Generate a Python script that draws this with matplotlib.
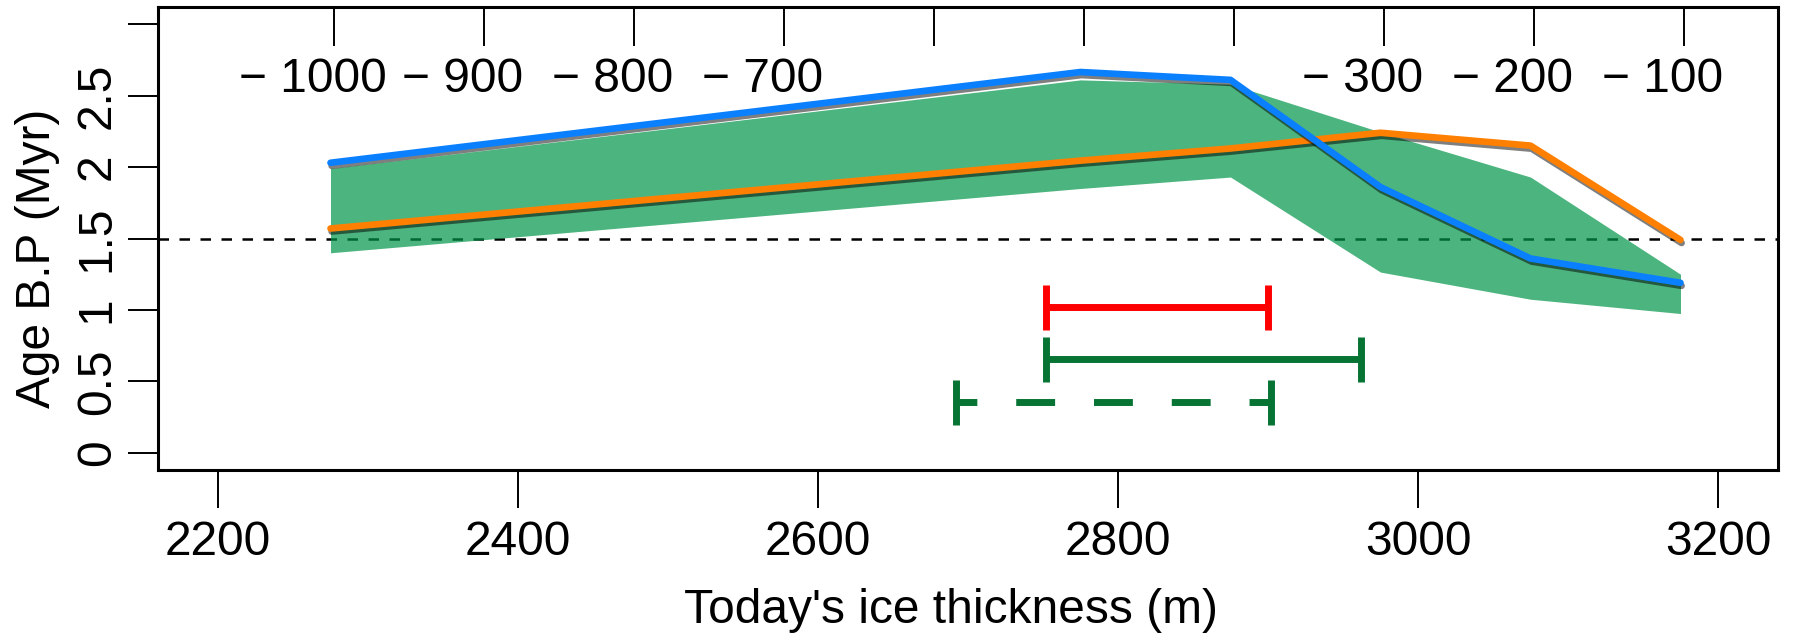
import matplotlib
matplotlib.use("Agg")
import matplotlib.pyplot as plt
import matplotlib.patheffects as pe

# ===================================
# Data
# ===================================

thickness = [2275, 2775, 2875, 2975, 3075, 3175]

age_blue = [2.03, 2.665, 2.61, 1.86, 1.36, 1.19]
age_orange = [1.57, 2.045, 2.13, 2.24, 2.15, 1.49]
band_upper = [1.99, 2.61, 2.58, 2.245, 1.93, 1.25]
band_lower = [1.40, 1.85, 1.93, 1.265, 1.075, 0.975]

# ranges (x from, x to, y level)
range_red = [2752, 2900, 1.02]
range_green = [2752, 2962, 0.655]
range_green_dashed = [2692, 2902, 0.355]

top_ticks = [2277, 2377, 2477, 2577, 2677, 2777, 2877, 2977, 3077, 3177]
top_labels = ["1000", "900", "800", "700", "", "", "", "300", "200", "100"]

x_ticks = [2200, 2400, 2600, 2800, 3000, 3200]
y_ticks = [0, 0.5, 1, 1.5, 2, 2.5, 3]
y_tick_labels = ["0", "0.5", "1", "1.5", "2", "2.5", ""]

# ===================================
# Figure
# ===================================

plt.rcParams["font.family"] = ["Liberation Sans", "DejaVu Sans"]
FS = 34.5

fig = plt.figure(figsize=(17.94, 6.34), dpi=100)
ax = fig.add_axes([158 / 1794, (634 - 470) / 634, (1778 - 158) / 1794, (470 - 7) / 634])

ax.axhline(1.5, color="black", lw=1.8, linestyle=(0, (4.2, 4.2)), zorder=1)

ax.fill_between(thickness, band_lower, band_upper, color="#009548",
                alpha=0.7, lw=0, zorder=2)

shadow = [pe.SimpleLineShadow(offset=(0.8, -2.2), shadow_color="black", alpha=0.5),
          pe.Normal()]

ax.plot(thickness, age_blue, color="#0A80FF", lw=4.8, zorder=4,
        solid_capstyle="round", solid_joinstyle="round", path_effects=shadow)
ax.plot(thickness, age_orange, color="#FF8000", lw=4.8, zorder=3,
        solid_capstyle="round", solid_joinstyle="round", path_effects=shadow)

# ===================================
# Range bars
# ===================================

cap = 0.158


def range_bar(r, color, style="solid"):
    ax.plot([r[0], r[1]], [r[2], r[2]], color=color, lw=5, linestyle=style,
            solid_capstyle="butt", dash_capstyle="butt", zorder=3)
    ax.vlines([r[0], r[1]], r[2] - cap, r[2] + cap, color=color, lw=5, zorder=3)


range_bar(range_red, "#FF0000")
range_bar(range_green, "#077434")
range_bar(range_green_dashed, "#077434", style=(2.6, (5.6, 5.6)))

# ===================================
# Axes
# ===================================

ax.set_xlim(2160, 3240)
ax.set_ylim(-0.12, 3.12)

ax.set_xticks(x_ticks)
ax.set_xticklabels([str(v) for v in x_ticks])
ax.set_yticks(y_ticks)
ax.set_yticklabels(y_tick_labels)

ax.tick_params(axis="x", length=27, width=1.4, pad=9, labelsize=FS)
ax.tick_params(axis="y", length=21.5, width=1.4, pad=6, labelsize=FS,
               labelrotation=90)
for lab in ax.get_yticklabels():
    lab.set_va("center")

for sp in ax.spines.values():
    sp.set_linewidth(2.2)

top = ax.secondary_xaxis("top")
top.set_xticks(top_ticks)
top.set_xticklabels([])
top.tick_params(direction="in", length=28, width=1.4)

for xt, lab in zip(top_ticks, top_labels):
    if lab == "":
        continue
    ax.annotate("\u2212 " + lab, xy=(xt, 0.8164), xycoords=("data", "axes fraction"),
                xytext=(len(lab) * 0.556 * FS / 2, 0), textcoords="offset points",
                ha="right", va="baseline", fontsize=FS)

fig.text(50 / 1794, 1 - 258 / 634, "Age B.P (Myr)", rotation=90,
         rotation_mode="anchor", ha="center", va="baseline", fontsize=FS)
fig.text(951 / 1794, (634 - 623) / 634, "Today's ice thickness (m)",
         ha="center", va="baseline", fontsize=FS)

plt.savefig("out.png", dpi=100)
